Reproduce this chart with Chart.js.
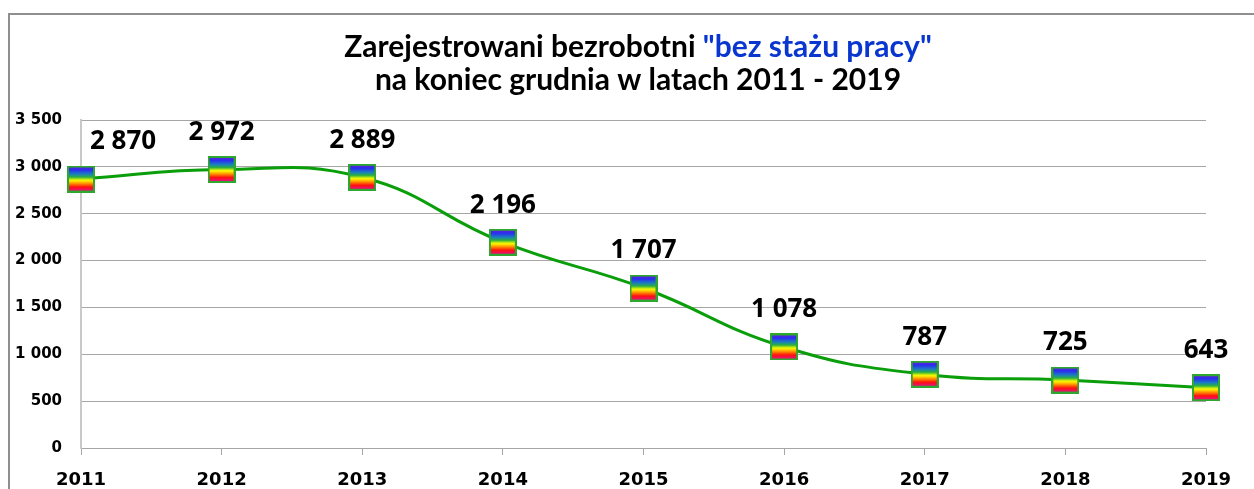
<!DOCTYPE html>
<html>
<head>
<meta charset="utf-8">
<script src="https://cdn.jsdelivr.net/npm/chart.js@4"></script>
<style>
  html, body { margin: 0; padding: 0; background: #fff; }
  #wrap { width: 1254px; height: 489px; position: relative; }
</style>
</head>
<body>
<div id="wrap"><canvas id="myChart" width="1254" height="489"></canvas></div>
<script>
// dane
const years = ['2011', '2012', '2013', '2014', '2015', '2016', '2017', '2018', '2019'];
const unemployed = [2870, 2972, 2889, 2196, 1707, 1078, 787, 725, 643];
const titleLine1 = ['Zarejestrowani bezrobotni ', '"bez stażu pracy"'];
const titleLine2 = 'na koniec grudnia w latach 2011 - 2019';

// liczby z odstepem tysiecy, np. 2 870
function fmt(v) {
    return String(v).replace(/\B(?=(\d{3})+(?!\d))/g, ' ');
}

// kwadratowy znacznik z teczowym gradientem
function makeMarker() {
    const c = document.createElement('canvas');
    c.width = 28;
    c.height = 27;
    const g = c.getContext('2d');
    const grad = g.createLinearGradient(0, 1, 0, 26);
    grad.addColorStop(0, '#6a1fd6');
    grad.addColorStop(0.14, '#2a2df0');
    grad.addColorStop(0.3, '#1a7fc0');
    grad.addColorStop(0.42, '#2bb040');
    grad.addColorStop(0.55, '#ffff00');
    grad.addColorStop(0.68, '#ff9000');
    grad.addColorStop(0.82, '#ff1010');
    grad.addColorStop(1, '#e0109a');
    g.fillStyle = grad;
    g.fillRect(1, 1, 26, 25);
    g.strokeStyle = '#2ea82e';
    g.lineWidth = 2;
    g.strokeRect(1, 1, 26, 25);
    return c;
}
const marker = makeMarker();

// ramka + tytul
const framePlugin = {
    id: 'frame',
    beforeDraw(chart) {
        const c = chart.ctx;
        c.save();
        c.fillStyle = '#fff';
        c.fillRect(0, 0, chart.width, chart.height);
        c.strokeStyle = '#8f8f8f';
        c.lineWidth = 2;
        c.strokeRect(9, 14, 1400, 600);
        c.restore();
    },
    afterDraw(chart) {
        const c = chart.ctx;
        const cx = 638;
        c.save();
        c.font = 'bold 30px Lato, sans-serif';
        c.textBaseline = 'middle';
        c.textAlign = 'left';
        const w1 = c.measureText(titleLine1[0]).width;
        const w2 = c.measureText(titleLine1[1]).width;
        let x = cx - (w1 + w2) / 2;
        c.fillStyle = '#000';
        c.fillText(titleLine1[0], x, 47);
        c.fillStyle = '#0a36d0';
        c.fillText(titleLine1[1], x + w1, 47);
        c.fillStyle = '#000';
        c.textAlign = 'center';
        c.fillText(titleLine2, cx, 80);
        c.restore();
    }
};

// etykiety danych nad punktami
const labelsPlugin = {
    id: 'valueLabels',
    afterDatasetsDraw(chart) {
        const c = chart.ctx;
        const meta = chart.getDatasetMeta(0);
        c.save();
        c.font = 'bold 26px "Open Sans", sans-serif';
        c.fillStyle = '#000';
        c.textAlign = 'center';
        c.textBaseline = 'middle';
        meta.data.forEach((pt, i) => {
            const txt = fmt(unemployed[i]);
            const w = c.measureText(txt).width;
            let x = Math.max(pt.x, chart.chartArea.left + w / 2 + 9);
            c.fillText(txt, x, pt.y - 37);
        });
        c.restore();
    }
};

const ctx = document.getElementById('myChart').getContext('2d');

let myChart = new Chart(ctx, {
    type: 'line',
    data: {
        labels: years,
        datasets: [{
            label: 'bez stażu pracy',
            data: unemployed,
            borderColor: '#0a9e0a',
            borderWidth: 3,
            fill: false,
            tension: 0.45,
            pointStyle: marker,
            pointRadius: 14,
            clip: false
        }]
    },
    options: {
        responsive: false,
        animation: false,
        layout: { padding: { left: 0, right: 48, top: 120, bottom: 0 } },
        plugins: {
            legend: { display: false },
            title: { display: false },
            tooltip: { enabled: false }
        },
        scales: {
            x: {
                offset: false,
                grid: {
                    drawOnChartArea: false,
                    drawTicks: true,
                    tickLength: 7,
                    color: '#a6a6a6'
                },
                border: { color: '#a6a6a6', width: 1 },
                ticks: {
                    color: '#000',
                    font: { family: 'DejaVu Sans', weight: 'bold', size: 18 },
                    padding: 15,
                    maxRotation: 0
                },
                afterFit(scale) { scale.height = 41; }
            },
            y: {
                min: 0,
                max: 3500,
                grid: { color: '#a6a6a6', drawTicks: false },
                border: { color: '#c8c8c8', width: 2 },
                ticks: {
                    stepSize: 500,
                    color: '#000',
                    padding: 19,
                    font: { family: 'DejaVu Sans', weight: 'bold', size: 15 },
                    callback: v => fmt(v)
                },
                afterFit(scale) { scale.width = 81; }
            }
        }
    },
    plugins: [framePlugin, labelsPlugin]
});
</script>
</body>
</html>
